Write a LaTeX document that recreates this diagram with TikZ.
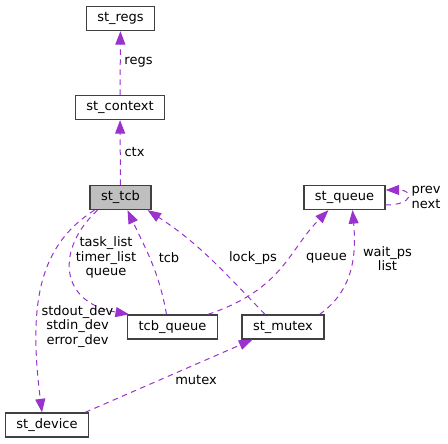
\documentclass[tikz,border=0pt]{standalone}
\usepackage{fontspec}
\setmainfont{DejaVu Sans}
\usetikzlibrary{arrows.meta}
\definecolor{edgepurple}{HTML}{9A32CD}
\definecolor{tcbgray}{HTML}{BFBFBF}
\definecolor{boxborder}{HTML}{404040}
\begin{document}
\begin{tikzpicture}[x=1pt,y=1pt,
        classbox/.style={draw=boxborder,line width=1.3pt,fill=white,minimum height=24pt,inner xsep=11pt,font=\fontsize{13}{15}\selectfont},
        member/.style={edgepurple,line width=1pt,dash pattern=on 5.5pt off 4.5pt,-{Triangle[length=13.5pt,width=10pt]}},
        memberlabel/.style={align=center,text=black,inner sep=0pt,font=\fontsize{13}{14.5}\selectfont}]
        \useasboundingbox (0,0) rectangle (448,-444);

        \node[classbox] (regs) at (120.5,-18.5) {st\_regs};
        \node[classbox] (context) at (120,-107.5) {st\_context};
        \node[classbox,fill=tcbgray] (tcb) at (120.5,-197.5) {st\_tcb};
        \node[classbox] (queue) at (344.5,-197.5) {st\_queue};
        \node[classbox] (tcbqueue) at (172.5,-327) {tcb\_queue};
        \node[classbox] (mutex) at (283,-327) {st\_mutex};
        \node[classbox] (device) at (47,-425) {st\_device};

        \draw[member] (context) -- (regs);
        \draw[member] (tcb) -- (context);
        \draw[member] ([xshift=-6]tcbqueue.north) to[out=100,in=-65] ([xshift=7]tcb.south);
        \draw[member] ([xshift=-23]tcb.south) .. controls +(-42,-39) and +(-70,12) .. ([xshift=2]tcbqueue.north west);
        \draw[member] ([xshift=-26]tcb.south) .. controls +(-55,-35) and +(-14,110) .. ([xshift=-5]device.north);
        \draw[member] ([xshift=-18]mutex.north) to[out=134,in=-33] ([xshift=-4]tcb.south east);
        \draw[member] ([xshift=-10]tcbqueue.north east) .. controls +(75,25) and +(-40,-40) .. ([xshift=-16]queue.south);
        \draw[member] ([xshift=-5]mutex.north east) to[out=35,in=-85] ([xshift=8]queue.south);
        \draw[member] ([yshift=-7.5]queue.east) .. controls +(28,0) and +(28,0) .. ([yshift=7.5]queue.east);
        \draw[member] ([xshift=-4]device.north east) -- ([xshift=11]mutex.south west);

        \node[memberlabel] (lregs) at (138.5,-62) {regs};
        \node[memberlabel] (lctx) at (134.5,-152) {ctx};
        \node[memberlabel] (llist) at (106,-257.5) {task\_list\\timer\_list\\queue};
        \node[memberlabel] (ltcb) at (169,-258) {tcb};
        \node[memberlabel] (ldev) at (77.5,-326.5) {stdout\_dev\\stdin\_dev\\error\_dev};
        \node[memberlabel] (llock) at (253,-258) {lock\_ps};
        \node[memberlabel] (lqueue) at (326.5,-258) {queue};
        \node[memberlabel] (lwait) at (387.5,-258.5) {wait\_ps\\list};
        \node[memberlabel] (lprev) at (426,-197.5) {prev\\next};
        \node[memberlabel] (lmutex) at (196,-380) {mutex};
    \end{tikzpicture}
\end{document}
